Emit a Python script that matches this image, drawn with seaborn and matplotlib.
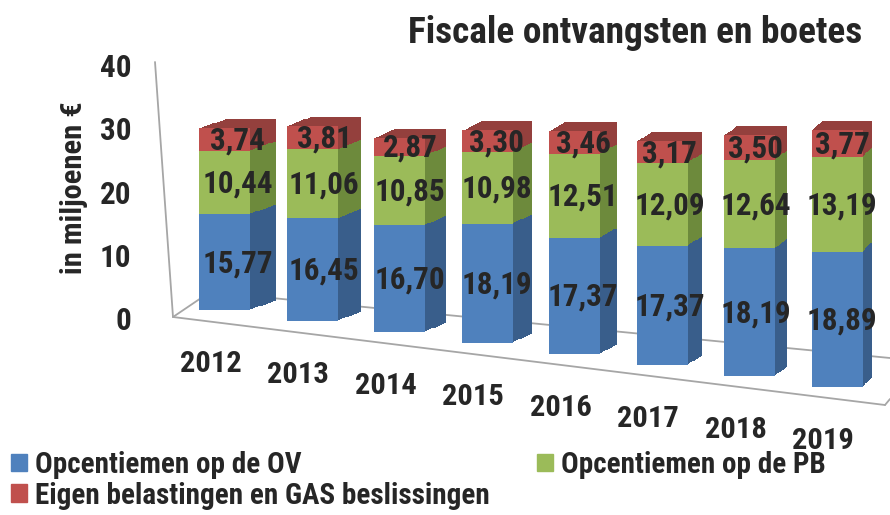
import pandas as pd
import seaborn as sns
import matplotlib.pyplot as plt
import matplotlib.transforms as mtransforms
from matplotlib import font_manager
from matplotlib.lines import Line2D
from matplotlib.patches import Patch

# ------------ DATA ------------
years = ["2012", "2013", "2014", "2015", "2016", "2017", "2018", "2019"]
ov = [15.77, 16.45, 16.70, 18.19, 17.37, 17.37, 18.19, 18.89]      # Opcentiemen op de OV
pb = [10.44, 11.06, 10.85, 10.98, 12.51, 12.09, 12.64, 13.19]      # Opcentiemen op de PB
eigen = [3.74, 3.81, 2.87, 3.30, 3.46, 3.17, 3.50, 3.77]           # Eigen belastingen en GAS
series_names = ["Opcentiemen op de OV", "Opcentiemen op de PB",
                "Eigen belastingen en GAS beslissingen"]
TITLE = "Fiscale ontvangsten en boetes"
# ------------------------------

BLUE, GREEN, RED = "#4F81BD", "#9BBB59", "#C0504D"
BLUE_D, GREEN_D, RED_D = "#395E8B", "#6D8A3C", "#94403D"
GRID = "#A6A6A6"

sns.set_style("white")

# look for a narrow / condensed face, the original uses Arial Narrow bold
found = {}
for f in font_manager.fontManager.ttflist:
    key = (f.name + " " + str(f.stretch) + " " + f.fname).lower()
    if "narrow" in key or "condensed" in key:
        found.setdefault(f.name, f.stretch)
FONT, STRETCH = "Liberation Sans", "normal"
for name in ["Liberation Sans Narrow", "Arial Narrow", "Roboto Condensed", "Noto Sans",
             "Open Sans Condensed", "Open Sans", "DejaVu Sans Condensed", "DejaVu Sans"]:
    if name in found:
        FONT, STRETCH = name, found[name]
        break
print("font:", FONT, STRETCH, found)
plt.rcParams["font.family"] = [FONT, "DejaVu Sans"]
plt.rcParams["font.stretch"] = STRETCH
plt.rcParams["font.weight"] = "bold"

df = pd.DataFrame({"year": years, "ov": ov, "pb": pb, "eigen": eigen})
df["mid"] = df["ov"] + df["pb"]
df["total"] = df["mid"] + df["eigen"]

fig = plt.figure(figsize=(8.9, 5.15), dpi=100)

# size factor so the title gets the width it has in the original (456 px)
probe = fig.text(0, 0, TITLE, fontsize=27, fontweight="bold")
w = probe.get_window_extent(renderer=fig.canvas.get_renderer()).width
probe.remove()
K = min(1.1, 456 / w)

ax = fig.add_axes([0.185, 0.3825, 0.8146, 0.4913])
ax.patch.set_alpha(0)


def bar_trans(i, dx=0.0, dy=0.0):
    # fake perspective: bars further right sit lower and look a bit taller
    s = 0.961 + 0.0247 * i
    shift = mtransforms.ScaledTranslation(dx / 100, (8 - 11 * i + dy) / 100, fig.dpi_scale_trans)
    return mtransforms.Affine2D().scale(1, s) + ax.transData + shift


def depth(i):
    return 26 - 2.3 * i, 9.0


def draw(col, color, frac):
    n0 = len(ax.patches)
    sns.barplot(data=df, x="year", y=col, color=color, width=0.58,
                saturation=1, errorbar=None, ax=ax, linewidth=0)
    for i, p in enumerate(ax.patches[n0:]):
        dx, dy = depth(i)
        p.set_transform(bar_trans(i, dx * frac, dy * frac))
        p.set_clip_on(False)


# extruded side/top faces, back to front
steps = 10
for k in range(steps, 0, -1):
    for col, color in [("total", RED_D), ("mid", GREEN_D), ("ov", BLUE_D)]:
        draw(col, color, k / steps)
# front faces
for col, color in [("total", RED), ("mid", GREEN), ("ov", BLUE)]:
    draw(col, color, 0)

# value labels
for i in range(len(years)):
    dx, dy = depth(i)
    for val, mid in [(ov[i], ov[i] / 2),
                     (pb[i], ov[i] + pb[i] / 2),
                     (eigen[i], ov[i] + pb[i] + eigen[i] / 2)]:
        ax.text(i, mid, f"{val:.2f}".replace(".", ","), transform=bar_trans(i, dx / 2, -1),
                ha="center", va="center", fontsize=22.5 * K, fontweight="bold", zorder=10)
    ax.text(i, 0, years[i], transform=bar_trans(i, -14, -54), ha="center", va="center",
            fontsize=22 * K, fontweight="bold")

ax.set_xlim(-0.686, 7.6)
ax.set_ylim(0, 40)
ax.set_xticks([])
ax.set_yticks([0, 10, 20, 30, 40])
ax.set_xlabel("")
ax.set_ylabel("")
ax.tick_params(axis="y", length=0, pad=24, labelsize=22.5 * K)
for lab in ax.get_yticklabels():
    lab.set_fontweight("bold")
for sp in ax.spines.values():
    sp.set_visible(False)


# wall and floor frame (pixel positions of the frame outline)
def px(x, y):
    return x / 890, 1 - y / 515


for (x0, y0), (x1, y1) in [((155, 62), (173, 317)), ((173, 317), (885, 405)),
                           ((173, 317), (210, 292)), ((210, 292), (890, 358)),
                           ((885, 405), (890, 399))]:
    a, b = px(x0, y0), px(x1, y1)
    fig.add_artist(Line2D([a[0], b[0]], [a[1], b[1]], color=GRID, lw=1.3, zorder=-1))

fig.text(0.7135, 0.936, TITLE, ha="center", va="center",
         fontsize=27 * K, fontweight="bold")
fig.text(74 / 890, 1 - 188 / 515, "in miljoenen €", rotation=90, ha="center", va="center",
         fontsize=22 * K, fontweight="bold")

handles = [Patch(color=BLUE, label=series_names[0]),
           Patch(color=RED, label=series_names[2]),
           Patch(color=GREEN, label=series_names[1])]
fig.legend(handles=handles, loc="upper left", bbox_to_anchor=(0.012, 0.125), ncol=2,
           frameon=False, fontsize=21 * K, handlelength=0.55, handleheight=0.55,
           handletextpad=0.3, columnspacing=1.6, labelspacing=0.1, borderaxespad=0,
           borderpad=0)

fig.savefig("out.png", dpi=100)
